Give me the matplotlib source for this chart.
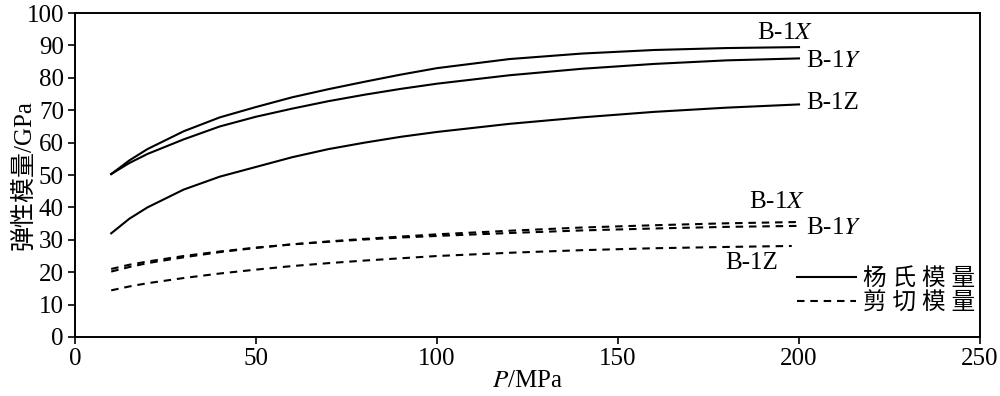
import matplotlib.pyplot as plt
from matplotlib.lines import Line2D

plt.rcParams['font.family'] = ['Liberation Serif', 'Noto Sans CJK SC']
plt.rcParams['mathtext.fontset'] = 'stix'

# pressure (MPa)
p = [10, 15, 20, 30, 40, 50, 60, 70, 80, 90, 100, 120, 140, 160, 180, 200]
p_z = [10, 15, 20, 30, 40, 50, 60, 70, 80, 90, 100, 120, 140, 160, 180, 198]

# Young's modulus (GPa)
young_x = [50.3, 54.5, 58.0, 63.5, 67.8, 71.0, 74.0, 76.5, 78.8, 81.0, 83.0, 85.8, 87.5, 88.6, 89.2, 89.5]
young_y = [50.3, 53.7, 56.5, 61.0, 65.0, 68.0, 70.5, 72.8, 74.8, 76.6, 78.2, 80.8, 82.8, 84.3, 85.4, 86.0]
young_z = [32.0, 36.5, 40.0, 45.5, 49.5, 52.5, 55.5, 58.0, 60.0, 61.8, 63.3, 65.8, 67.8, 69.5, 70.8, 71.8]

# shear modulus (GPa)
shear_x = [20.2, 21.6, 22.8, 24.6, 26.2, 27.5, 28.6, 29.5, 30.3, 31.0, 31.7, 32.8, 33.8, 34.5, 35.1, 35.5]
shear_y = [21.0, 22.3, 23.3, 25.0, 26.4, 27.6, 28.6, 29.4, 30.1, 30.7, 31.2, 32.1, 32.9, 33.5, 34.0, 34.3]
shear_z = [14.4, 15.6, 16.6, 18.2, 19.6, 20.8, 21.9, 22.8, 23.6, 24.3, 25.0, 26.0, 26.8, 27.4, 27.8, 28.1]

fig = plt.figure(figsize=(10, 3.96), dpi=100)
ax = fig.add_axes([0.075, 0.149, 0.905, 0.818])

lw = 1.5
dash = (3.6, 2.8)
ax.plot(p, young_x, color='black', lw=lw)
ax.plot(p, young_y, color='black', lw=lw)
ax.plot(p, young_z, color='black', lw=lw)
ax.plot(p, shear_x, color='black', lw=lw, dashes=dash)
ax.plot(p, shear_y, color='black', lw=lw, dashes=dash)
ax.plot(p_z, shear_z, color='black', lw=lw, dashes=dash)

fs = 18
ax.text(196, 93.8, 'B-1$\\it{X}$', fontsize=fs, ha='center', va='center')
ax.text(202, 85.3, 'B-1$\\it{Y}$', fontsize=fs, ha='left', va='center')
ax.text(202, 72.3, 'B-1Z', fontsize=fs, ha='left', va='center')
ax.text(194, 41.6, 'B-1$\\it{X}$', fontsize=fs, ha='center', va='center')
ax.text(202, 33.7, 'B-1$\\it{Y}$', fontsize=fs, ha='left', va='center')
ax.text(187, 22.8, 'B-1Z', fontsize=fs, ha='center', va='center')

handles = [Line2D([], [], color='black', lw=lw),
           Line2D([], [], color='black', lw=lw, dashes=dash)]
ax.legend(handles, ['杨 氏 模 量', '剪 切 模 量'], loc='lower right',
          bbox_to_anchor=(1.0, 0.055), frameon=False, fontsize=17,
          handlelength=2.5, handletextpad=0.3, labelspacing=0.1,
          borderaxespad=0.0, borderpad=0.2)

ax.set_xlim(0, 250)
ax.set_ylim(0, 100)
ax.set_xticks([0, 50, 100, 150, 200, 250])
ax.set_yticks(range(0, 101, 10))
ax.tick_params(labelsize=fs, direction='out', length=5, width=1.2, pad=3)
for s in ax.spines.values():
    s.set_linewidth(1.4)

ax.set_xlabel('$\\it{P}$/MPa', fontsize=fs, labelpad=0)
ax.set_ylabel('弹性模量/GPa', fontsize=fs)
ax.yaxis.set_label_coords(-0.043, 0.5)

fig.savefig('out.png', dpi=100)
